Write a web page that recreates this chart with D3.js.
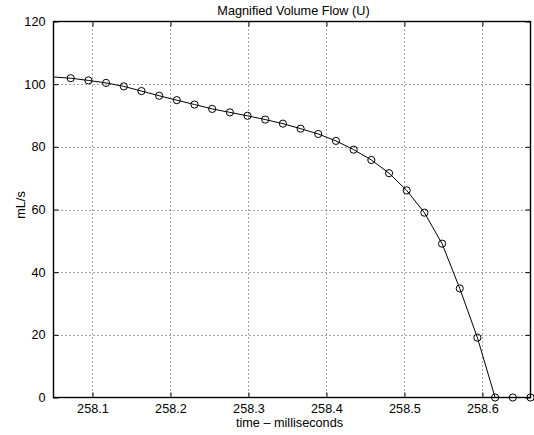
<!DOCTYPE html>
<html>
<head>
<meta charset="utf-8">
<script src="https://cdn.jsdelivr.net/npm/d3@7/dist/d3.min.js"></script>
<style>
  html, body { margin: 0; padding: 0; background: #fff; }
  svg { display: block; font-family: "Liberation Sans", Arial, Helvetica, sans-serif; }
</style>
</head>
<body>
<svg id="chart" width="534" height="435"></svg>
<script>
// Sample times (ms) and volume flow (mL/s); first sample lies just left of the view
const times = [
  258.0494, 258.0721, 258.0948, 258.1174, 258.1401, 258.1628, 258.1855,
  258.2081, 258.2308, 258.2535, 258.2762, 258.2988, 258.3215, 258.3442,
  258.3669, 258.3895, 258.4122, 258.4349, 258.4576, 258.4803, 258.5029,
  258.5256, 258.5483, 258.5710, 258.5936, 258.6163, 258.6390, 258.6617
];
const flow = [
  102.3, 101.9, 101.2, 100.4, 99.3, 97.8, 96.3,
  94.9, 93.5, 92.1, 91.0, 89.9, 88.7, 87.4,
  85.8, 84.1, 81.9, 79.1, 75.8, 71.6, 66.1,
  59.0, 49.1, 34.8, 19.1, 0, 0, 0
];
const xTicks = [258.1, 258.2, 258.3, 258.4, 258.5, 258.6];
const yTicks = [0, 20, 40, 60, 80, 100, 120];
const xDomain = [258.05, 258.6617];
const yDomain = [0, 120];

const titleText = "Magnified Volume Flow (U)";
const xLabel = "time \u2013 milliseconds";
const yLabel = "mL/s";

const svg = d3.select("#chart");
const plotL = 53.5, plotR = 530.5, plotT = 21.5, plotB = 397.5;
const fontSize = "12.7px";

const x = d3.scaleLinear().domain(xDomain).range([plotL, plotR]);
const y = d3.scaleLinear().domain(yDomain).range([plotB, plotT]);

// Clip region for the curve
svg.append("defs").append("clipPath").attr("id", "plotClip")
  .append("rect").attr("x", plotL).attr("y", plotT)
  .attr("width", plotR - plotL).attr("height", plotB - plotT);

// Dotted grid
const grid = svg.append("g").attr("stroke", "#000").attr("stroke-width", 1)
  .attr("stroke-dasharray", "1,3").attr("opacity", 0.7);
grid.selectAll("line.gx").data(xTicks).join("line").attr("class", "gx")
  .attr("x1", d => Math.round(x(d)) + 0.5).attr("x2", d => Math.round(x(d)) + 0.5)
  .attr("y1", plotT).attr("y2", plotB);
grid.selectAll("line.gy").data(yTicks.slice(1, -1)).join("line").attr("class", "gy")
  .attr("y1", d => Math.round(y(d)) + 0.5).attr("y2", d => Math.round(y(d)) + 0.5)
  .attr("x1", plotL).attr("x2", plotR);

// Axes with inward ticks on all four sides
const tickLen = 5;
const fmtX = d3.format(".1f");
const axB = svg.append("g").attr("transform", `translate(0,${plotB})`)
  .call(d3.axisBottom(x).tickValues(xTicks).tickFormat(fmtX).tickSizeInner(-tickLen).tickSizeOuter(0).tickPadding(8));
const axT = svg.append("g").attr("transform", `translate(0,${plotT})`)
  .call(d3.axisTop(x).tickValues(xTicks).tickFormat("").tickSizeInner(-tickLen).tickSizeOuter(0));
const axL = svg.append("g").attr("transform", `translate(${plotL},0)`)
  .call(d3.axisLeft(y).tickValues(yTicks).tickSizeInner(-tickLen).tickSizeOuter(0).tickPadding(8));
const axR = svg.append("g").attr("transform", `translate(${plotR},0)`)
  .call(d3.axisRight(y).tickValues(yTicks).tickFormat("").tickSizeInner(-tickLen).tickSizeOuter(0));

[axB, axT, axL, axR].forEach(a => {
  a.select(".domain").remove();
  a.selectAll("line").attr("stroke", "#000");
  a.selectAll("text").attr("fill", "#000").style("font-size", fontSize)
    .style("font-family", '"Liberation Sans", Arial, sans-serif');
});
axB.selectAll("text").attr("dy", null).attr("y", 15.3);

// Box
svg.append("rect").attr("x", plotL).attr("y", plotT)
  .attr("width", plotR - plotL).attr("height", plotB - plotT)
  .attr("fill", "none").attr("stroke", "#000").attr("stroke-width", 1.4);

// Curve
const pts = times.map((t, i) => [t, flow[i]]);
svg.append("path").datum(pts)
  .attr("clip-path", "url(#plotClip)")
  .attr("fill", "none").attr("stroke", "#000").attr("stroke-width", 1)
  .attr("d", d3.line().x(d => x(d[0])).y(d => y(d[1])));

// Circle markers for samples inside the view
svg.append("g").selectAll("circle")
  .data(pts.filter(d => d[0] >= xDomain[0]))
  .join("circle")
  .attr("cx", d => x(d[0])).attr("cy", d => y(d[1])).attr("r", 3.6)
  .attr("fill", "none").attr("stroke", "#000").attr("stroke-width", 1);

// Titles
svg.append("text").attr("x", 293.5).attr("y", 14.5)
  .attr("text-anchor", "middle").style("font-size", fontSize).text(titleText);
svg.append("text").attr("x", 289.5).attr("y", 426.5)
  .attr("text-anchor", "middle").style("font-size", fontSize).text(xLabel);
svg.append("text").attr("transform", `translate(24.5,205) rotate(-90)`)
  .attr("text-anchor", "middle").style("font-size", fontSize).text(yLabel);
</script>
</body>
</html>
